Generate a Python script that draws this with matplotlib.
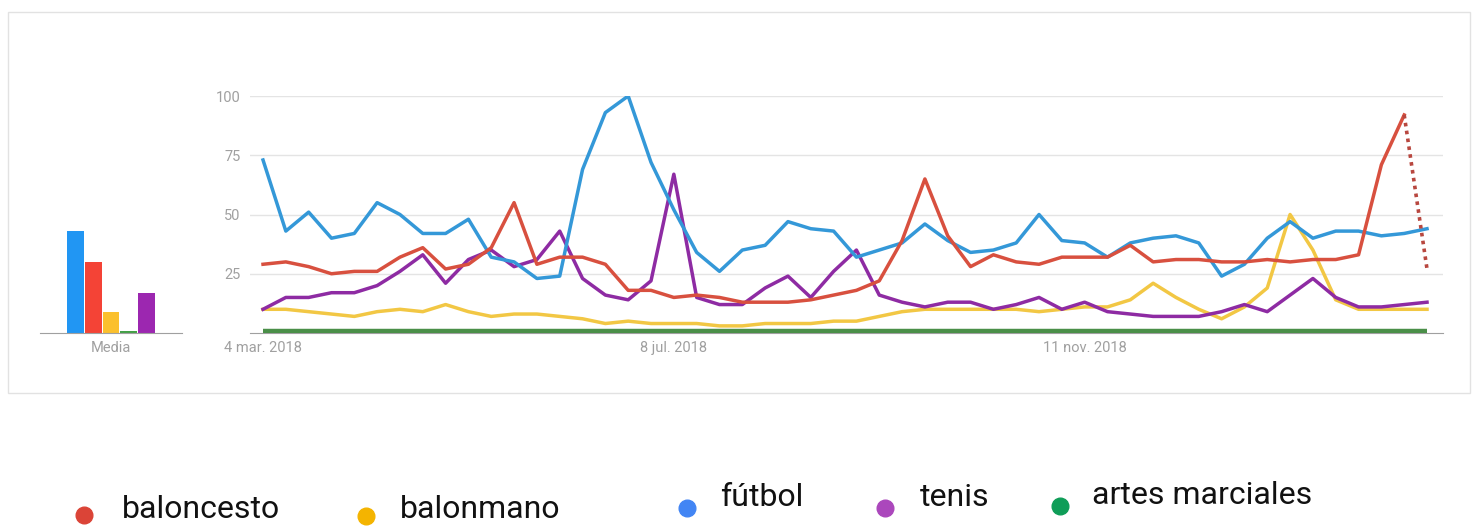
"""Google Trends style chart: interest over time for five sports"""
import matplotlib
matplotlib.use("Agg")
import matplotlib.pyplot as plt
from matplotlib.patches import Rectangle

plt.rcParams['font.family'] = ['Roboto', 'DejaVu Sans']

# weekly interest, starting 4 mar. 2018
futbol = [73, 43, 51, 40, 42, 55, 50, 42, 42, 48, 32, 30, 23, 24, 69, 93, 100, 72, 52, 34,
          26, 35, 37, 47, 44, 43, 32, 35, 38, 46, 39, 34, 35, 38, 50, 39, 38, 32, 38, 40,
          41, 38, 24, 29, 40, 47, 40, 43, 43, 41, 42, 44]
baloncesto = [29, 30, 28, 25, 26, 26, 32, 36, 27, 29, 36, 55, 29, 32, 32, 29, 18, 18, 15, 16,
              15, 13, 13, 13, 14, 16, 18, 22, 39, 65, 41, 28, 33, 30, 29, 32, 32, 32, 37, 30,
              31, 31, 30, 30, 31, 30, 31, 31, 33, 71, 92, 27]
balonmano = [10, 10, 9, 8, 7, 9, 10, 9, 12, 9, 7, 8, 8, 7, 6, 4, 5, 4, 4, 4,
             3, 3, 4, 4, 4, 5, 5, 7, 9, 10, 10, 10, 10, 10, 9, 10, 11, 11, 14, 21,
             15, 10, 6, 11, 19, 50, 35, 14, 10, 10, 10, 10]
tenis = [10, 15, 15, 17, 17, 20, 26, 33, 21, 31, 35, 28, 31, 43, 23, 16, 14, 22, 67, 15,
         12, 12, 19, 24, 15, 26, 35, 16, 13, 11, 13, 13, 10, 12, 15, 10, 13, 9, 8, 7,
         7, 7, 9, 12, 9, 16, 23, 15, 11, 11, 12, 13]
artes_marciales = [1] * 52

date_ticks = [0, 18, 36]
date_labels = ["4 mar. 2018", "8 jul. 2018", "11 nov. 2018"]

media_names = ["fútbol", "baloncesto", "balonmano", "artes marciales", "tenis"]
media_values = [43, 30, 9, 1, 17]

legend_names = ["baloncesto", "balonmano", "fútbol", "tenis", "artes marciales"]

# colours
LINE_COLORS = {"fútbol": "#3498d8", "baloncesto": "#d8503f", "balonmano": "#f2c744",
               "tenis": "#8e2ba3", "artes marciales": "#4a8f48"}
BAR_COLORS = ["#2196f3", "#f44336", "#fbc02d", "#43a047", "#9c27b0"]
LEGEND_COLORS = {"baloncesto": "#db4437", "balonmano": "#f4b400", "fútbol": "#4285f4",
                 "tenis": "#ab47bc", "artes marciales": "#0f9d58"}
GRID = "#e4e4e4"
AXIS = "#a0a0a0"
LABEL = "#a0a0a0"

W, H = 1481, 528
fig = plt.figure(figsize=(W / 100, H / 100), dpi=100)


def px_axes(left, top, right, bottom):
    return fig.add_axes([left / W, 1 - bottom / H, (right - left) / W, (bottom - top) / H])


# card frame
frame = Rectangle((8 / W, 1 - 393 / H), (1470 - 8) / W, (393 - 12) / H, transform=fig.transFigure,
                  fill=False, edgecolor="#e2e2e2", linewidth=1)
fig.add_artist(frame)

# --- line chart ---
ax = px_axes(250, 96, 1443, 333)
x = list(range(len(futbol)))
ax.plot(x, artes_marciales, color=LINE_COLORS["artes marciales"], lw=3.2, solid_capstyle="butt", zorder=3)
ax.plot(x, balonmano, color=LINE_COLORS["balonmano"], lw=2.5, zorder=4)
ax.plot(x, tenis, color=LINE_COLORS["tenis"], lw=2.5, zorder=5)
ax.plot(x, futbol, color=LINE_COLORS["fútbol"], lw=2.5, zorder=6)
ax.plot(x[:-1], baloncesto[:-1], color=LINE_COLORS["baloncesto"], lw=2.5, zorder=7)
ax.plot(x[-2:], baloncesto[-2:], color="#b8473f", lw=2.6, ls=(0, (1, 1.2)), zorder=7)

ax.set_xlim(-0.57, 51.7)
ax.set_ylim(0, 100)
ax.set_yticks([25, 50, 75, 100])
ax.set_xticks(date_ticks)
ax.set_xticklabels(date_labels)
ax.grid(axis="y", color=GRID, lw=1)
ax.set_axisbelow(True)
for s in ["top", "right", "left"]:
    ax.spines[s].set_visible(False)
ax.spines["bottom"].set_color(AXIS)
ax.tick_params(axis="both", length=0, colors=LABEL, labelsize=10.5)
ax.tick_params(axis="y", pad=7)
ax.tick_params(axis="x", pad=6)

# --- average bars ---
bx = px_axes(40, 96, 182, 333)
bx.bar(range(len(media_values)), media_values, width=0.95, color=BAR_COLORS)
bx.set_xlim(2 - 4.03, 2 + 4.03)
bx.set_ylim(0, 100)
bx.set_yticks([])
bx.set_xticks([2])
bx.set_xticklabels(["Media"])
for s in ["top", "right", "left"]:
    bx.spines[s].set_visible(False)
bx.spines["bottom"].set_color(AXIS)
bx.tick_params(axis="x", length=0, colors=LABEL, labelsize=10.5, pad=6)

# --- legend ---
lg = fig.add_axes([0, 0, 1, 1])
lg.set_xlim(0, W)
lg.set_ylim(H, 0)
lg.axis("off")
marker_pos = [(84, 515), (366, 516), (687, 508), (885, 508), (1060, 506)]
text_pos = [(122, 510), (400, 510), (720, 498), (920, 498), (1092, 496)]
for name, (mx, my), (tx, ty) in zip(legend_names, marker_pos, text_pos):
    lg.plot([mx], [my], "o", ms=12, color=LEGEND_COLORS[name])
    lg.text(tx, ty, name, fontsize=23, va="center", ha="left", color="#111111")

fig.savefig("out.png", dpi=100)
